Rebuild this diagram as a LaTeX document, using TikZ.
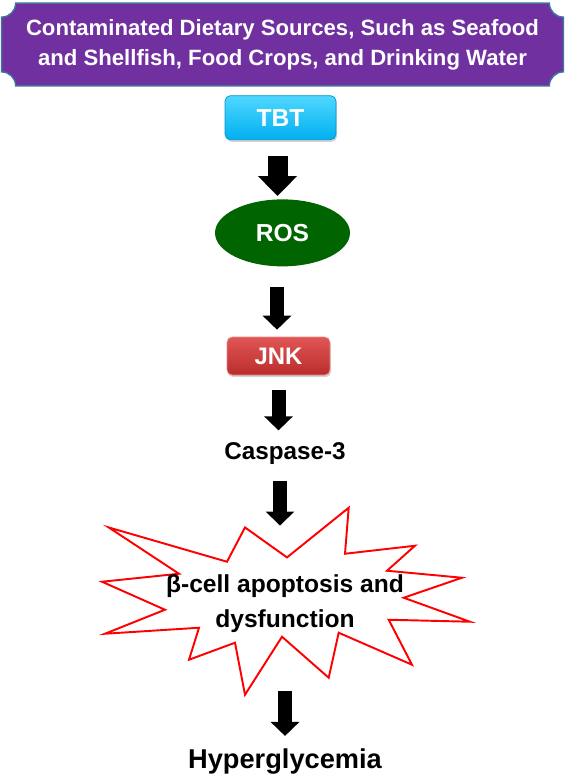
\documentclass[tikz,border=0pt]{standalone}
\usepackage{fontspec}
\setmainfont{Liberation Sans}
\usepackage{tikz}
\usetikzlibrary{shapes.geometric,arrows.meta,positioning,shadows,backgrounds}
\definecolor{banner}{RGB}{112,48,160}
\definecolor{banneredge}{RGB}{65,113,156}
\definecolor{tbtlight}{RGB}{80,215,255}
\definecolor{tbtdark}{RGB}{0,176,240}
\definecolor{rosgreen}{RGB}{0,100,0}
\definecolor{jnklight}{RGB}{225,85,85}
\definecolor{jnkdark}{RGB}{185,45,45}
\tikzstyle{plaque} = [fill=banner, draw=banneredge, line width=0.85pt]
\tikzstyle{source} = [text=white, align=center, inner sep=0pt, minimum width=11.22cm, minimum height=1.64cm, font=\bfseries\fontsize{12.6}{17}\selectfont]
\tikzstyle{cyanbox} = [rectangle, rounded corners=3pt, minimum width=2.22cm, minimum height=0.88cm, top color=tbtlight, bottom color=tbtdark, draw=tbtdark!85!black, text=white, font=\bfseries\fontsize{14}{16}\selectfont, drop shadow={shadow xshift=0.6pt, shadow yshift=-1.2pt, opacity=0.35}]
\tikzstyle{greenoval} = [ellipse, inner sep=0pt, minimum width=2.7cm, minimum height=1.34cm, fill=rosgreen, text=white, font=\bfseries\fontsize{14}{16}\selectfont]
\tikzstyle{redbox} = [rectangle, rounded corners=3pt, minimum width=2.06cm, minimum height=0.76cm, top color=jnklight, bottom color=jnkdark, draw=jnklight!70!white, text=white, font=\bfseries\fontsize{13.6}{16}\selectfont, drop shadow={shadow xshift=0.6pt, shadow yshift=-1.2pt, opacity=0.35}]
\tikzstyle{stage} = [inner sep=0pt, align=center, text=black, font=\bfseries\fontsize{13.8}{16}\selectfont]
\tikzstyle{burst} = [draw=red, fill=white, line width=1.1pt, line join=miter]
\tikzstyle{fatarrow} = [line width=0.28cm, -{Triangle[width=0.56cm,length=0.28cm]}]
\tikzstyle{bigarrow} = [line width=0.4cm, -{Triangle[width=0.76cm,length=0.4cm]}]

\begin{document}
\begin{tikzpicture}[x=0.02cm, y=-0.02cm] % one unit = one pixel of the sketch
\useasboundingbox (0,0) rectangle (566,781);

% Place the nodes down the page
\node(sources)   [source]                                         at (282.5,44.5) {Contaminated Dietary Sources, Such as Seafood\\and Shellfish, Food Crops, and Drinking Water};
\node(tbt)       [cyanbox,   below=0.19cm of sources, xshift=-0.04cm]            {TBT};
\node(ros)       [greenoval, below=1.18cm of tbt, xshift=0.04cm]                 {ROS};
\node(jnk)       [redbox,    below=1.4cm of ros, xshift=-0.08cm]                 {JNK};
\node(caspase)   [stage,     below=1.33cm of jnk, xshift=0.13cm]                 {Caspase-3};
\node(apoptosis) [stage,     below=2.2cm of caspase, font=\bfseries\fontsize{14}{19.8}\selectfont] {β-cell apoptosis and\\dysfunction};
\node(hyper)     [stage,     below=2.3cm of apoptosis, font=\bfseries\fontsize{15.5}{18}\selectfont] {Hyperglycemia};

% Banner and explosion behind the text
\begin{scope}[on background layer]
\draw [plaque] ([xshift=0.28cm]sources.north west) -- ([xshift=-0.28cm]sources.north east)
  arc[start angle=180, end angle=270, radius=0.28cm] -- ([yshift=0.28cm]sources.south east)
  arc[start angle=90, end angle=180, radius=0.28cm] -- ([xshift=0.28cm]sources.south west)
  arc[start angle=0, end angle=90, radius=0.28cm] -- ([yshift=-0.28cm]sources.north west)
  arc[start angle=-90, end angle=0, radius=0.28cm] -- cycle;
\draw [burst, shift={(apoptosis.center)}, xshift=0.06cm] (-179.3,-76.3) -- (-61,-42) -- (-43,-76.3) -- (-1,-46.3)
  -- (60.7,-96) -- (57,-50) -- (127,-58) -- (99,-33) -- (174,-26) -- (115.7,-6)
  -- (182,18) -- (100.7,16) -- (124,61) -- (50.7,29) -- (40.7,74) -- (-6,33)
  -- (-43,91) -- (-53,39) -- (-99,56) -- (-89,24) -- (-183,30) -- (-123,6)
  -- (-186,-22) -- (-109,-30) -- cycle;
\end{scope}

% Connect the nodes with block arrows
\draw [bigarrow, shorten <=0.32cm, shorten >=0.06cm] ([xshift=-0.06cm]tbt.south)     -- ([xshift=-0.06cm]tbt.south |- ros.north);
\draw [fatarrow, shorten <=0.4cm,  shorten >=0.14cm] ([xshift=-0.11cm]ros.south)     -- ([xshift=-0.11cm]ros.south |- jnk.north);
\draw [fatarrow, shorten <=0.3cm,  shorten >=0.23cm] (jnk.south)                     -- (jnk.south |- caspase.north);
\draw [fatarrow, shorten <=0.32cm, shorten >=0.98cm] ([xshift=-0.1cm]caspase.south)  -- ([xshift=-0.1cm]caspase.south |- apoptosis.north);
\draw [fatarrow, shorten <=1.16cm, shorten >=0.24cm] (apoptosis.south)               -- (apoptosis.south |- hyper.north);

\end{tikzpicture}
\end{document}
